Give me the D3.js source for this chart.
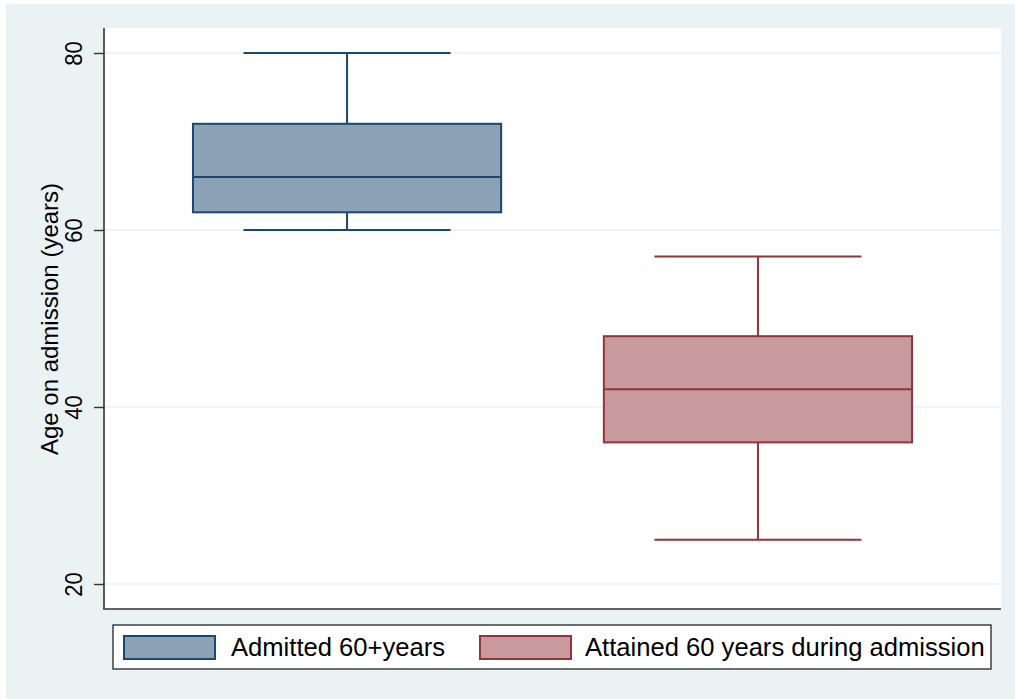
<!DOCTYPE html>
<meta charset="utf-8">
<style>
body { margin: 0; background: #fff; }
text { font-family: "Liberation Sans", Arial, sans-serif; fill: #000; }
.grid line { stroke: #eaf2f3; stroke-width: 1.6; }
</style>
<div id="chart"></div>
<script src="https://d3js.org/d3.v7.min.js"></script>
<script>
var w = 1015, h = 699;

// box summaries
var groups = ["Admitted 60+years", "Attained 60 years during admission"];
var lowWhisker = [60, 25];
var q1 = [62, 36];
var median = [66, 42];
var q3 = [72, 48];
var highWhisker = [80, 57];
var yTicks = [20, 40, 60, 80];
var strokeCol = ["#1a476f", "#90353b"];
var fillCol = ["#8ca3b7", "#c89a9d"];

var pLeft = 104, pRight = 1001, pTop = 28, pBottom = 609;

var svg = d3.select("#chart").append("svg")
  .attr("width", w).attr("height", h);

// stata style outer panel
svg.append("rect").attr("x", 6).attr("y", 4)
  .attr("width", w - 6).attr("height", h - 4).attr("fill", "#eaf2f3");
svg.append("rect").attr("x", pLeft).attr("y", pTop)
  .attr("width", pRight - pLeft).attr("height", pBottom - pTop).attr("fill", "#fff");

var y = d3.scaleLinear().domain([20, 80]).range([584, 53]);
var x = d3.scaleBand().domain(groups).range([pLeft, pRight])
  .paddingInner(0.25).paddingOuter(0.2165);

// gridlines
svg.append("g").attr("class", "grid")
  .selectAll("line").data(yTicks).enter().append("line")
  .attr("x1", pLeft).attr("x2", pRight)
  .attr("y1", function (d) { return y(d); })
  .attr("y2", function (d) { return y(d); });

var yAxis = d3.axisLeft(y).tickValues(yTicks).tickSize(10).tickPadding(0);
var ga = svg.append("g").attr("transform", "translate(" + pLeft + ",0)").call(yAxis);
ga.select(".domain").attr("d", "M0," + pTop + "V" + pBottom).attr("stroke", "#333").attr("stroke-width", 1.6);
ga.selectAll(".tick line").attr("stroke", "#333").attr("stroke-width", 1.4);
ga.selectAll(".tick text")
  .attr("x", null).attr("dy", null)
  .attr("transform", "translate(-22,0) rotate(-90) scale(1,1.12)")
  .attr("text-anchor", "middle")
  .style("font-size", "22px")
  .style("font-family", "'Liberation Sans', Arial, sans-serif")
  .attr("fill", "#000");

// bottom axis line
svg.append("line").attr("x1", pLeft - 0.8).attr("x2", pRight)
  .attr("y1", pBottom).attr("y2", pBottom)
  .attr("stroke", "#333").attr("stroke-width", 1.6);

svg.append("text")
  .attr("transform", "translate(58," + 319 + ") rotate(-90)")
  .attr("text-anchor", "middle")
  .style("font-size", "24px")
  .text("Age on admission (years)");

// boxes
var bw = x.bandwidth(), capW = bw * 0.672;
groups.forEach(function (g, i) {
  var cx = x(g) + bw / 2;
  var b = svg.append("g").attr("stroke", strokeCol[i]).attr("stroke-width", 2);
  b.append("line").attr("x1", cx).attr("x2", cx).attr("y1", y(highWhisker[i])).attr("y2", y(q3[i]));
  b.append("line").attr("x1", cx).attr("x2", cx).attr("y1", y(q1[i])).attr("y2", y(lowWhisker[i]));
  b.append("line").attr("x1", cx - capW / 2).attr("x2", cx + capW / 2)
    .attr("y1", y(highWhisker[i])).attr("y2", y(highWhisker[i]));
  b.append("line").attr("x1", cx - capW / 2).attr("x2", cx + capW / 2)
    .attr("y1", y(lowWhisker[i])).attr("y2", y(lowWhisker[i]));
  b.append("rect").attr("x", x(g)).attr("width", bw)
    .attr("y", y(q3[i])).attr("height", y(q1[i]) - y(q3[i]))
    .attr("fill", fillCol[i]);
  b.append("line").attr("x1", x(g)).attr("x2", x(g) + bw)
    .attr("y1", y(median[i])).attr("y2", y(median[i]));
});

// legend
var leg = svg.append("g");
leg.append("rect").attr("x", 113).attr("y", 625).attr("width", 878).attr("height", 44)
  .attr("fill", "#fff").attr("stroke", "#333").attr("stroke-width", 1.4);
var keyX = [124, 480], textX = [231, 585];
groups.forEach(function (g, i) {
  leg.append("rect").attr("x", keyX[i]).attr("y", 636).attr("width", 91).attr("height", 23)
    .attr("fill", fillCol[i]).attr("stroke", strokeCol[i]).attr("stroke-width", 2);
  leg.append("text").attr("x", textX[i]).attr("y", 656)
    .style("font-size", "25.6px").text(g);
});
</script>
